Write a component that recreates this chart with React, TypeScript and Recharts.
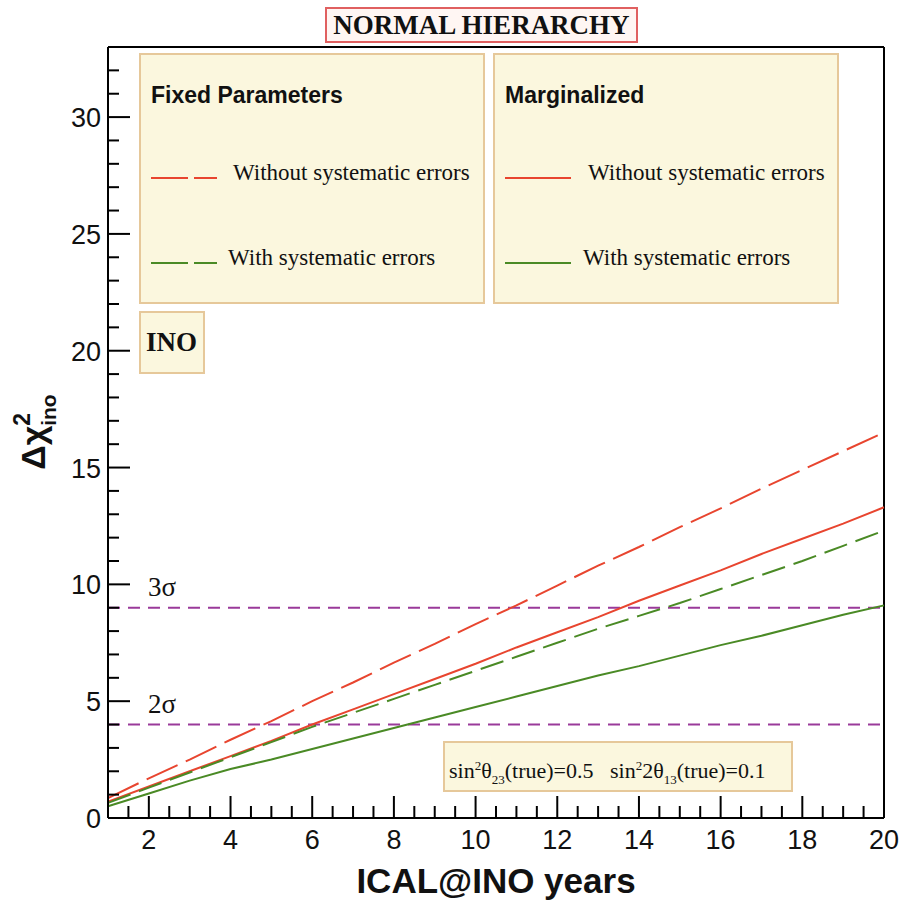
import { LineChart, Line, XAxis, YAxis, ReferenceLine } from "recharts";

const years = [1, 2, 3, 4, 5, 6, 7, 8, 9, 10, 11, 12, 13, 14, 15, 16, 17, 18, 19, 20];
// Fixed parameters
const fixedNoSys = [0.85, 1.7, 2.5, 3.35, 4.15, 5.0, 5.8, 6.65, 7.45, 8.3, 9.1, 9.95, 10.8, 11.6, 12.45, 13.25, 14.1, 14.9, 15.7, 16.5];
const fixedSys = [0.65, 1.3, 1.95, 2.6, 3.25, 3.9, 4.5, 5.1, 5.7, 6.3, 6.9, 7.5, 8.1, 8.65, 9.2, 9.8, 10.4, 11.0, 11.65, 12.3];
// Marginalized
const margNoSys = [0.7, 1.35, 2.0, 2.65, 3.3, 4.0, 4.65, 5.3, 5.95, 6.6, 7.3, 7.95, 8.6, 9.3, 9.95, 10.6, 11.3, 11.95, 12.6, 13.3];
const margSys = [0.5, 1.05, 1.6, 2.1, 2.5, 2.95, 3.4, 3.85, 4.3, 4.75, 5.2, 5.65, 6.1, 6.5, 6.95, 7.4, 7.8, 8.25, 8.7, 9.1];

const xTicks = Array.from({ length: 39 }, (_, i) => 1 + i * 0.5);
const yTicks = Array.from({ length: 33 }, (_, i) => i);
const sigmaLevels = [
  { y: 9, label: "3σ" },
  { y: 4, label: "2σ" },
];

const rows = years.map((year, i) => ({
  year,
  fixedNoSys: fixedNoSys[i],
  fixedSys: fixedSys[i],
  margNoSys: margNoSys[i],
  margSys: margSys[i],
}));

const RED = "#e8452f";
const GREEN = "#4a8a25";
const PURPLE = "#9a3a9a";
const SANS = "'Liberation Sans', Arial, sans-serif";
const SERIF = "'Liberation Serif', 'Times New Roman', serif";
const BOX_FILL = "#fbf7de";
const BOX_EDGE = "#e6c89a";

function XTick(props: any) {
  const { x, y, payload } = props;
  const v = payload.value;
  const major = v % 2 === 0;
  return (
    <g>
      <line x1={x} x2={x} y1={y} y2={y - (major ? 22 : 12)} stroke="#000" strokeWidth={2} />
      {major && (
        <text x={x} y={y + 31} textAnchor="middle" fontSize={27} fontFamily={SANS} fill="#111">
          {v}
        </text>
      )}
    </g>
  );
}

function YTick(props: any) {
  const { x, y, payload } = props;
  const v = payload.value;
  const major = v % 5 === 0;
  return (
    <g>
      <line x1={x} x2={x + (major ? 22 : 11)} y1={y} y2={y} stroke="#000" strokeWidth={2} />
      {major && (
        <text x={x - 7} y={y + 10} textAnchor="end" fontSize={27} fontFamily={SANS} fill="#111">
          {v}
        </text>
      )}
    </g>
  );
}

function LegendLine({ color, dash }: { color: string; dash?: string }) {
  return (
    <svg width={66} height={6} style={{ display: "block" }}>
      <line x1={0} x2={66} y1={3} y2={3} stroke={color} strokeWidth={2} strokeDasharray={dash} />
    </svg>
  );
}

function LegendBox(props: {
  left: number;
  title: string;
  dash?: string;
  textOffset: [number, number];
}) {
  const { left, title, dash, textOffset } = props;
  const box: React.CSSProperties = {
    position: "absolute",
    left,
    top: 53,
    width: 346,
    height: 251,
    background: BOX_FILL,
    border: `2px solid ${BOX_EDGE}`,
    boxSizing: "border-box",
  };
  const lineRow = (top: number, color: string, text: string, tx: number) => (
    <>
      <div style={{ position: "absolute", left: 10, top: top - 3 }}>
        <LegendLine color={color} dash={dash} />
      </div>
      <div
        style={{
          position: "absolute",
          left: tx,
          top: top - 18,
          fontFamily: SERIF,
          fontSize: 23,
          color: "#111",
          whiteSpace: "nowrap",
        }}
      >
        {text}
      </div>
    </>
  );
  return (
    <div style={box}>
      <div
        style={{
          position: "absolute",
          left: 10,
          top: 27,
          fontFamily: SANS,
          fontWeight: "bold",
          fontSize: 23,
          color: "#111",
          whiteSpace: "nowrap",
        }}
      >
        {title}
      </div>
      {lineRow(123, RED, "Without systematic errors", textOffset[0])}
      {lineRow(208, GREEN, "With systematic errors", textOffset[1])}
    </div>
  );
}

export default function App() {
  return (
    <div style={{ position: "absolute", left: 0, top: 0, width: 903, height: 902, background: "#fff" }}>
      <LineChart width={903} height={902} data={rows} margin={{ top: 47, right: 19, bottom: 0, left: 0 }}>
        <XAxis
          dataKey="year"
          type="number"
          domain={[1, 20]}
          ticks={xTicks}
          interval={0}
          height={84}
          tickSize={0}
          tickMargin={0}
          tickLine={false}
          tick={<XTick />}
          axisLine={{ stroke: "#000", strokeWidth: 2 }}
          label={{
            content: (p: any) => {
              const vb = p.viewBox;
              return (
                <text
                  x={vb.x + vb.width / 2}
                  y={vb.y + 75}
                  textAnchor="middle"
                  fontFamily={SANS}
                  fontWeight="bold"
                  fontSize={35}
                  fill="#111"
                >
                  ICAL@INO years
                </text>
              );
            },
          }}
        />
        <YAxis
          type="number"
          domain={[0, 33]}
          ticks={yTicks}
          interval={0}
          width={108}
          tickSize={0}
          tickMargin={0}
          tickLine={false}
          tick={<YTick />}
          axisLine={{ stroke: "#000", strokeWidth: 2 }}
          label={{
            content: (p: any) => {
              const vb = p.viewBox;
              return (
                <text
                  transform={`translate(${vb.x + 45}, 432) rotate(-90)`}
                  textAnchor="middle"
                  fontFamily={SANS}
                  fontWeight="bold"
                  fontSize={34}
                  fill="#111"
                >
                  Δχ
                  <tspan fontSize={23} dy={-15}>2</tspan>
                  <tspan fontSize={21} dx={-13} dy={26}>ino</tspan>
                </text>
              );
            },
          }}
        />
        <ReferenceLine y={33} stroke="#000" strokeWidth={2} />
        <ReferenceLine x={20} stroke="#000" strokeWidth={2} />
        {sigmaLevels.map((s) => (
          <ReferenceLine
            key={s.label}
            y={s.y}
            stroke={PURPLE}
            strokeWidth={2}
            strokeDasharray="12 8"
            label={{
              content: (p: any) => {
                const vb = p.viewBox;
                return (
                  <text x={vb.x + 40} y={vb.y - 12} fontFamily={SERIF} fontSize={27} fill="#111">
                    {s.label}
                  </text>
                );
              },
            }}
          />
        ))}
        <Line dataKey="fixedNoSys" stroke={RED} strokeWidth={2} strokeDasharray="34 9" dot={false} isAnimationActive={false} />
        <Line dataKey="margNoSys" stroke={RED} strokeWidth={2} dot={false} isAnimationActive={false} />
        <Line dataKey="fixedSys" stroke={GREEN} strokeWidth={2} strokeDasharray="24 9" dot={false} isAnimationActive={false} />
        <Line dataKey="margSys" stroke={GREEN} strokeWidth={2} dot={false} isAnimationActive={false} />
      </LineChart>

      <div
        style={{
          position: "absolute",
          left: 325,
          top: 7,
          width: 313,
          height: 36,
          boxSizing: "border-box",
          border: "2px solid #e06060",
          background: "#fff6f3",
          fontFamily: SERIF,
          fontWeight: "bold",
          fontSize: 27,
          lineHeight: "32px",
          textAlign: "center",
          color: "#111",
          whiteSpace: "nowrap",
        }}
      >
        NORMAL HIERARCHY
      </div>

      <LegendBox left={139} title="Fixed Parameters" dash="37 6" textOffset={[92, 87]} />
      <LegendBox left={493} title="Marginalized" textOffset={[93, 88]} />

      <div
        style={{
          position: "absolute",
          left: 139,
          top: 311,
          width: 66,
          height: 63,
          boxSizing: "border-box",
          background: BOX_FILL,
          border: `2px solid ${BOX_EDGE}`,
          fontFamily: SERIF,
          fontWeight: "bold",
          fontSize: 27,
          lineHeight: "59px",
          paddingLeft: 5,
          color: "#111",
        }}
      >
        INO
      </div>

      <div
        style={{
          position: "absolute",
          left: 443,
          top: 741,
          width: 350,
          height: 51,
          boxSizing: "border-box",
          background: BOX_FILL,
          border: `2px solid ${BOX_EDGE}`,
          fontFamily: SERIF,
          fontSize: 22,
          lineHeight: "46px",
          paddingLeft: 4,
          color: "#111",
          whiteSpace: "nowrap",
        }}
      >
        sin<sup style={{ fontSize: 13 }}>2</sup>θ<sub style={{ fontSize: 13 }}>23</sub>(true)=0.5&nbsp;&nbsp;&nbsp;sin
        <sup style={{ fontSize: 13 }}>2</sup>2θ<sub style={{ fontSize: 13 }}>13</sub>(true)=0.1
      </div>
    </div>
  );
}
